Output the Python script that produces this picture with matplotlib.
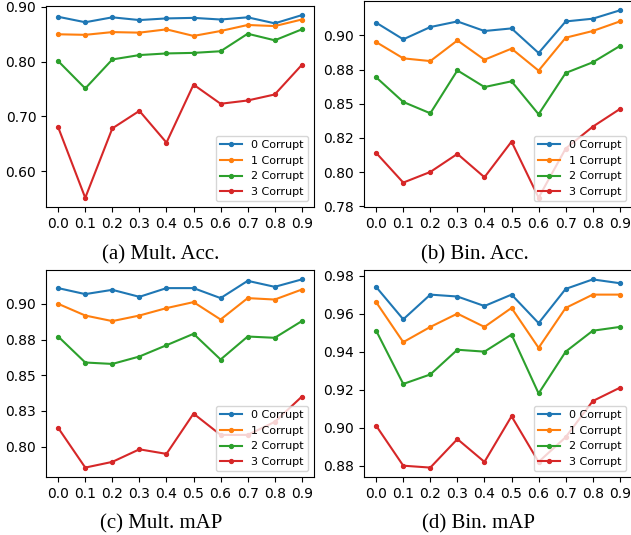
import matplotlib
matplotlib.use("Agg")
import matplotlib.pyplot as plt

x_vals = [0.0, 0.1, 0.2, 0.3, 0.4, 0.5, 0.6, 0.7, 0.8, 0.9]
x_labels = ["0.0", "0.1", "0.2", "0.3", "0.4", "0.5", "0.6", "0.7", "0.8", "0.9"]
series_names = ["0 Corrupt", "1 Corrupt", "2 Corrupt", "3 Corrupt"]
colors = ["#1f77b4", "#ff7f0e", "#2ca02c", "#d62728"]

# (a) Mult. Acc.
mult_acc_0 = [0.882, 0.872, 0.881, 0.876, 0.879, 0.880, 0.877, 0.881, 0.870, 0.885]
mult_acc_1 = [0.850, 0.849, 0.854, 0.853, 0.859, 0.847, 0.856, 0.867, 0.865, 0.877]
mult_acc_2 = [0.801, 0.751, 0.804, 0.812, 0.815, 0.816, 0.819, 0.851, 0.839, 0.859]
mult_acc_3 = [0.680, 0.551, 0.678, 0.710, 0.652, 0.758, 0.723, 0.729, 0.740, 0.794]
mult_acc_ticks = [0.6, 0.7, 0.8, 0.9]
mult_acc_ticklabels = ["0.60", "0.70", "0.80", "0.90"]

# (b) Bin. Acc.
bin_acc_0 = [0.9093, 0.8971, 0.9061, 0.9102, 0.9032, 0.9051, 0.8871, 0.9102, 0.9122, 0.9183]
bin_acc_1 = [0.8951, 0.8832, 0.8812, 0.8963, 0.8822, 0.8903, 0.8742, 0.8983, 0.9032, 0.9102]
bin_acc_2 = [0.8693, 0.8513, 0.8430, 0.8744, 0.8622, 0.8664, 0.8423, 0.8725, 0.8803, 0.8922]
bin_acc_3 = [0.8140, 0.7923, 0.8001, 0.8133, 0.7962, 0.8223, 0.7813, 0.8172, 0.8332, 0.8461]
bin_acc_ticks = [0.775, 0.8, 0.825, 0.85, 0.875, 0.9]
bin_acc_ticklabels = ["0.78", "0.80", "0.82", "0.85", "0.88", "0.90"]

# (c) Mult. mAP
mult_map_0 = [0.9110, 0.9068, 0.9098, 0.9049, 0.9110, 0.9110, 0.9040, 0.9161, 0.9119, 0.9171]
mult_map_1 = [0.9000, 0.8918, 0.8879, 0.8918, 0.8970, 0.9012, 0.8890, 0.9040, 0.9030, 0.9100]
mult_map_2 = [0.8771, 0.8589, 0.8579, 0.8631, 0.8710, 0.8790, 0.8610, 0.8771, 0.8762, 0.8879]
mult_map_3 = [0.8131, 0.7853, 0.7893, 0.7981, 0.7949, 0.8231, 0.8082, 0.8082, 0.8173, 0.8350]
mult_map_ticks = [0.8, 0.825, 0.85, 0.875, 0.9]
mult_map_ticklabels = ["0.80", "0.83", "0.85", "0.88", "0.90"]

# (d) Bin. mAP
bin_map_0 = [0.974, 0.957, 0.970, 0.969, 0.964, 0.970, 0.955, 0.973, 0.978, 0.976]
bin_map_1 = [0.966, 0.945, 0.953, 0.960, 0.953, 0.963, 0.942, 0.963, 0.970, 0.970]
bin_map_2 = [0.951, 0.923, 0.928, 0.941, 0.940, 0.949, 0.918, 0.940, 0.951, 0.953]
bin_map_3 = [0.901, 0.880, 0.879, 0.894, 0.882, 0.906, 0.882, 0.895, 0.914, 0.921]
bin_map_ticks = [0.88, 0.90, 0.92, 0.94, 0.96, 0.98]
bin_map_ticklabels = ["0.88", "0.90", "0.92", "0.94", "0.96", "0.98"]

captions = ["(a) Mult. Acc.", "(b) Bin. Acc.", "(c) Mult. mAP", "(d) Bin. mAP"]

panels = [
    ([mult_acc_0, mult_acc_1, mult_acc_2, mult_acc_3], mult_acc_ticks, mult_acc_ticklabels),
    ([bin_acc_0, bin_acc_1, bin_acc_2, bin_acc_3], bin_acc_ticks, bin_acc_ticklabels),
    ([mult_map_0, mult_map_1, mult_map_2, mult_map_3], mult_map_ticks, mult_map_ticklabels),
    ([bin_map_0, bin_map_1, bin_map_2, bin_map_3], bin_map_ticks, bin_map_ticklabels),
]

W, H = 631, 535
fig = plt.figure(figsize=(W / 100, H / 100), dpi=100)

# axes boxes in pixels: left, top, right, bottom
boxes = [(46, 6, 314, 207), (364, 1, 632, 207), (46, 270, 314, 477), (364, 270, 632, 477)]
cap_pos = [(161, 259), (475, 259), (161, 528), (478, 528)]

for i, (series, yt, ytl) in enumerate(panels):
    l, t, r, b = boxes[i]
    ax = fig.add_axes([l / W, 1 - b / H, (r - l) / W, (b - t) / H])
    for s, name, c in zip(series, series_names, colors):
        ax.plot(x_vals, s, color=c, marker='o', markersize=2.8, linewidth=1.5, label=name)
    ax.set_xticks(x_vals)
    ax.set_xticklabels(x_labels, fontsize=10)
    ax.set_yticks(yt)
    ax.set_yticklabels(ytl, fontsize=10)
    ax.legend(loc='lower right', fontsize=8)
    cx, cy = cap_pos[i]
    fig.text(cx / W, 1 - cy / H, captions[i], ha='center', va='baseline',
             fontsize=15, family='Liberation Serif')

fig.savefig("out.png", dpi=100)
